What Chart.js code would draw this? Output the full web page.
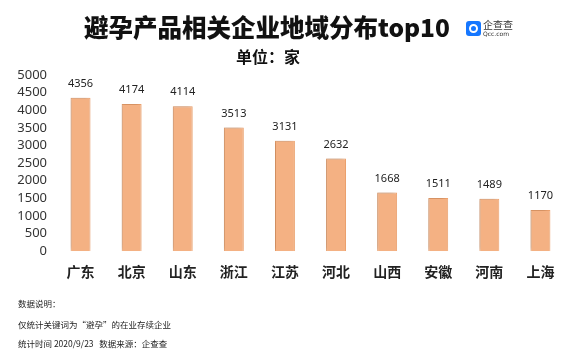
<!DOCTYPE html>
<html><head><meta charset="utf-8">
<script src="https://cdn.jsdelivr.net/npm/chart.js@4/dist/chart.umd.min.js"></script>
<style>
html,body{margin:0;padding:0;background:#fff;}
#wrap{position:relative;width:580px;height:360px;overflow:hidden;font-family:"Noto Sans CJK SC","Noto Sans",sans-serif;}
#c{position:absolute;left:0;top:0;}
.t{position:absolute;white-space:nowrap;color:#111;}
#title{left:0;width:534px;text-align:center;top:11px;font-size:24.5px;font-weight:900;line-height:32px;}
#sub{left:0;width:536px;text-align:center;top:45px;font-size:16px;font-weight:700;line-height:22px;}
.foot{left:18px;font-size:8.5px;line-height:12px;color:#222;}
#logo{position:absolute;left:466px;top:21px;width:15px;height:15px;border-radius:3px;background:#1677ff;}
#logo:after{content:"";position:absolute;left:3px;top:3px;width:5px;height:5px;border:2px solid #fff;border-radius:50%;}
#lt1{left:483px;top:18px;font-size:10px;line-height:13px;color:#333;}
#lt2{left:483px;top:30px;font-size:6px;line-height:8px;color:#333;font-family:"DejaVu Sans",sans-serif;}
</style></head>
<body>
<div id="wrap">
<canvas id="c" width="580" height="360"></canvas>
<div class="t" id="title">避孕产品相关企业地域分布top10</div>
<div class="t" id="sub">单位：家</div>
<div id="logo"></div>
<div class="t" id="lt1">企查查</div>
<div class="t" id="lt2">Qcc.com</div>
<div class="t foot" style="top:297px">数据说明：</div>
<div class="t foot" style="top:318px">仅统计关键词为“避孕”的在业存续企业</div>
<div class="t foot" style="top:337px">统计时间 2020/9/23&nbsp;&nbsp;&nbsp;数据来源：企查查</div>
</div>
<script>
const categories = ["广东","北京","山东","浙江","江苏","河北","山西","安徽","河南","上海"];
const values = [4356,4174,4114,3513,3131,2632,1668,1511,1489,1170];
const yMax = 5000;
const yStep = 500;

const shadowPlugin = {
  id:'shadow',
  beforeDatasetsDraw(chart){
    const ctx = chart.ctx; ctx.save();
    ctx.shadowColor='rgba(0,0,0,0.18)'; ctx.shadowBlur=4; ctx.shadowOffsetX=-2; ctx.shadowOffsetY=-1;
  },
  afterDatasetsDraw(chart){
    const ctx = chart.ctx; ctx.restore();
    ctx.save();
    ctx.fillStyle='#222'; ctx.font='11px "Noto Sans","Noto Sans CJK SC",sans-serif';
    ctx.textAlign='center'; ctx.textBaseline='middle';
    const meta = chart.getDatasetMeta(0);
    meta.data.forEach((bar,i)=>{ ctx.fillText(String(values[i]), bar.x, bar.y-14); });
    ctx.restore();
  }
};

new Chart(document.getElementById('c'), {
  type:'bar',
  data:{labels:categories, datasets:[{data:values, backgroundColor:'#F4B183', borderColor:'#F0A46F', borderWidth:1, categoryPercentage:1, barPercentage:0.39}]},
  options:{
    responsive:false, animation:false, devicePixelRatio:1,
    layout:{padding:{left:0,right:14,top:75,bottom:68}},
    plugins:{legend:{display:false}, tooltip:{enabled:false}, title:{display:false}},
    scales:{
      x:{grid:{display:false,drawTicks:false}, border:{display:false},
         ticks:{color:'#222', padding:12, font:{size:14, weight:'bold', family:'"Noto Sans CJK SC",sans-serif'}}},
      y:{min:0,max:yMax, grid:{display:false,drawTicks:false}, border:{display:false},
         afterFit(s){s.width=55;},
         ticks:{stepSize:yStep, autoSkip:false, color:'#333', padding:8, callback:v=>String(v),
                font:{size:13, family:'"Noto Sans","Open Sans",sans-serif'}}}
    }
  },
  plugins:[shadowPlugin]
});
</script>
</body></html>
